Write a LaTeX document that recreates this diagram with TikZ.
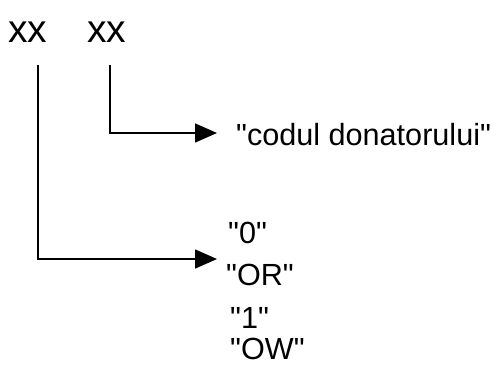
\documentclass[tikz,border=0pt]{standalone}
\usepackage{fontspec}
\setmainfont{Liberation Sans}[Ligatures=TeXOff]
\usetikzlibrary{arrows.meta}

\tikzset{
  code/.style={anchor=base west, inner sep=0pt, font=\fontsize{39}{39}\selectfont},
  val/.style={anchor=base west, inner sep=0pt, font=\fontsize{30.6}{36}\selectfont},
  link/.style={black, line width=1.6pt, -{Triangle[length=22pt,width=19pt]}}
}

\begin{document}
\begin{tikzpicture}[x=1pt,y=-1pt]
\useasboundingbox (0,0) rectangle (497,365);

\node[code] (xa) at (8,42) {xx};
\node[code] (xb) at (87,42) {xx};

\node[val] (donor) at (236,145) {"codul donatorului"};
\node[val] (v0) at (228,243) {"0"};
\node[val] (vor) at (226,285) {"OR"};
\node[val] (v1) at (230,328) {"1"};
\node[val] (vow) at (230,359) {"OW"};

\coordinate (sa) at (38,65);
\coordinate (sb) at (110,65);
\coordinate (ta) at (217,259);
\coordinate (tb) at (217,133);

\draw[link] (sb) |- (tb);
\draw[link] (sa) |- (ta);

\end{tikzpicture}
\end{document}
